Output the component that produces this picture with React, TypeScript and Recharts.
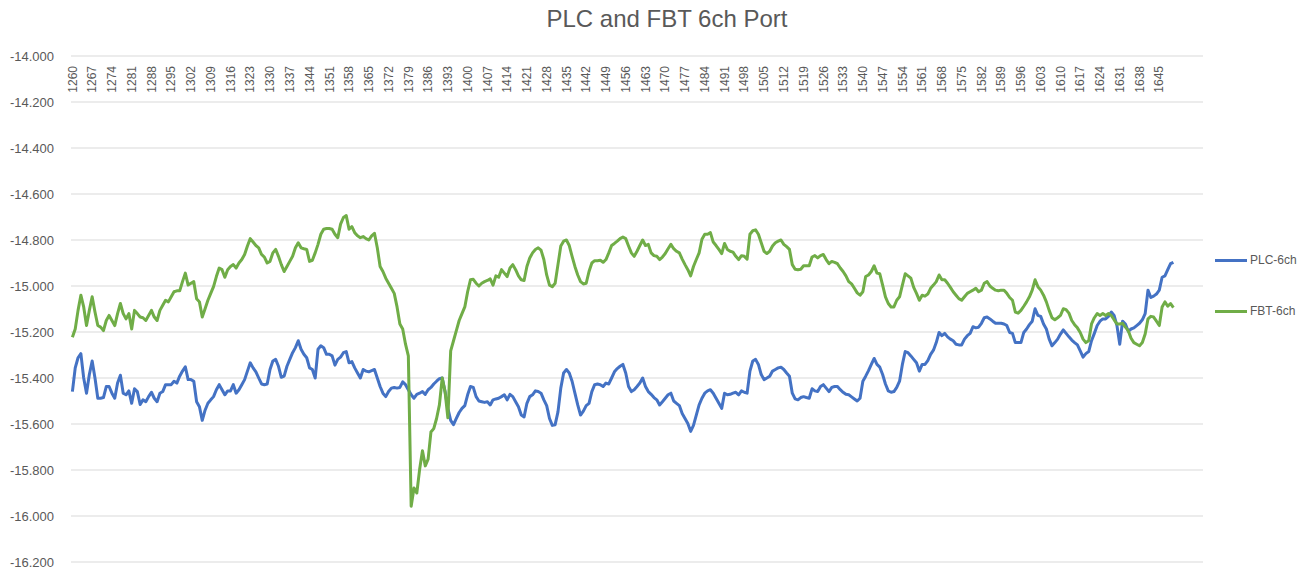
import React from "react";
import { LineChart, Line, XAxis, YAxis, CartesianGrid } from "recharts";

const chartTitle = "PLC and FBT 6ch Port";
const seriesNames = ["PLC-6ch", "FBT-6ch"];
const seriesColors = ["#4472C4", "#70AD47"];

const plc6ch = [
  -15.459, -15.356, -15.312, -15.294, -15.400, -15.466, -15.385, -15.326, -15.400, -15.488,
  -15.488, -15.485, -15.437, -15.437, -15.466, -15.488, -15.422, -15.388, -15.466, -15.473,
  -15.456, -15.510, -15.447, -15.459, -15.515, -15.495, -15.503, -15.481, -15.462, -15.488,
  -15.503, -15.466, -15.459, -15.429, -15.429, -15.429, -15.414, -15.422, -15.392, -15.370,
  -15.351, -15.407, -15.407, -15.414, -15.503, -15.525, -15.584, -15.540, -15.510, -15.495,
  -15.481, -15.451, -15.429, -15.451, -15.473, -15.456, -15.456, -15.429, -15.466, -15.451,
  -15.429, -15.407, -15.370, -15.334, -15.356, -15.373, -15.400, -15.426, -15.429, -15.426,
  -15.363, -15.326, -15.319, -15.349, -15.397, -15.392, -15.349, -15.319, -15.290, -15.268,
  -15.238, -15.275, -15.297, -15.312, -15.356, -15.363, -15.400, -15.275, -15.260, -15.268,
  -15.297, -15.297, -15.304, -15.344, -15.319, -15.309, -15.290, -15.285, -15.334, -15.329,
  -15.356, -15.378, -15.400, -15.363, -15.370, -15.373, -15.368, -15.363, -15.400, -15.437,
  -15.466, -15.481, -15.459, -15.444, -15.441, -15.444, -15.441, -15.417, -15.429, -15.451,
  -15.473, -15.488, -15.471, -15.466, -15.459, -15.471, -15.451, -15.441, -15.426, -15.414,
  -15.403, -15.400, -15.459, -15.532, -15.584, -15.603, -15.576, -15.550, -15.532, -15.520,
  -15.473, -15.437, -15.441, -15.481, -15.500, -15.503, -15.506, -15.503, -15.517, -15.495,
  -15.491, -15.488, -15.481, -15.473, -15.495, -15.471, -15.481, -15.503, -15.525, -15.561,
  -15.569, -15.510, -15.481, -15.473, -15.456, -15.459, -15.466, -15.495, -15.520, -15.576,
  -15.606, -15.603, -15.547, -15.444, -15.378, -15.363, -15.378, -15.414, -15.466, -15.517,
  -15.561, -15.544, -15.520, -15.510, -15.459, -15.429, -15.426, -15.429, -15.437, -15.422,
  -15.426, -15.400, -15.373, -15.359, -15.349, -15.341, -15.378, -15.437, -15.459, -15.451,
  -15.437, -15.422, -15.400, -15.437, -15.459, -15.471, -15.485, -15.495, -15.517, -15.503,
  -15.488, -15.473, -15.466, -15.500, -15.510, -15.520, -15.554, -15.576, -15.598, -15.632,
  -15.606, -15.561, -15.517, -15.488, -15.466, -15.456, -15.451, -15.466, -15.488, -15.510,
  -15.532, -15.466, -15.473, -15.471, -15.466, -15.462, -15.473, -15.456, -15.462, -15.466,
  -15.370, -15.326, -15.319, -15.341, -15.385, -15.407, -15.400, -15.392, -15.370, -15.363,
  -15.356, -15.353, -15.363, -15.378, -15.392, -15.466, -15.491, -15.495, -15.485, -15.481,
  -15.485, -15.488, -15.447, -15.456, -15.459, -15.437, -15.429, -15.444, -15.459, -15.441,
  -15.437, -15.437, -15.451, -15.462, -15.471, -15.473, -15.482, -15.491, -15.500, -15.488,
  -15.414, -15.392, -15.368, -15.341, -15.315, -15.341, -15.353, -15.385, -15.426, -15.456,
  -15.462, -15.459, -15.441, -15.414, -15.341, -15.285, -15.290, -15.304, -15.319, -15.334,
  -15.370, -15.341, -15.341, -15.324, -15.297, -15.279, -15.246, -15.202, -15.216, -15.206,
  -15.221, -15.231, -15.238, -15.253, -15.256, -15.256, -15.231, -15.216, -15.206, -15.177,
  -15.182, -15.179, -15.162, -15.138, -15.135, -15.143, -15.153, -15.162, -15.162, -15.162,
  -15.165, -15.172, -15.202, -15.206, -15.246, -15.246, -15.246, -15.202, -15.187, -15.168,
  -15.153, -15.099, -15.128, -15.132, -15.165, -15.187, -15.231, -15.260, -15.246, -15.231,
  -15.209, -15.191, -15.206, -15.221, -15.235, -15.246, -15.256, -15.282, -15.309, -15.294,
  -15.285, -15.238, -15.206, -15.172, -15.153, -15.143, -15.143, -15.132, -15.113, -15.128,
  -15.172, -15.253, -15.153, -15.165, -15.197, -15.187, -15.182, -15.172, -15.162, -15.147,
  -15.120, -15.018, -15.050, -15.044, -15.035, -15.018, -14.962, -14.956, -14.929, -14.903, -14.897,
];

const fbt6ch = [
  -15.223, -15.187, -15.106, -15.040, -15.091, -15.172, -15.106, -15.047, -15.113, -15.172,
  -15.179, -15.194, -15.150, -15.128, -15.150, -15.172, -15.120, -15.076, -15.120, -15.143,
  -15.120, -15.187, -15.106, -15.120, -15.135, -15.138, -15.150, -15.128, -15.106, -15.135,
  -15.150, -15.106, -15.084, -15.062, -15.069, -15.047, -15.025, -15.021, -15.021, -14.981,
  -14.944, -14.996, -14.988, -14.981, -15.055, -15.069, -15.135, -15.099, -15.062, -15.032,
  -15.003, -14.959, -14.922, -14.929, -14.962, -14.929, -14.915, -14.907, -14.922, -14.900,
  -14.885, -14.863, -14.826, -14.794, -14.809, -14.824, -14.834, -14.863, -14.874, -14.900,
  -14.893, -14.856, -14.841, -14.871, -14.907, -14.937, -14.915, -14.893, -14.871, -14.834,
  -14.812, -14.834, -14.838, -14.841, -14.893, -14.888, -14.856, -14.819, -14.775, -14.753,
  -14.750, -14.750, -14.753, -14.775, -14.790, -14.731, -14.702, -14.694, -14.753, -14.742,
  -14.768, -14.782, -14.790, -14.785, -14.794, -14.800, -14.782, -14.771, -14.834, -14.915,
  -14.937, -14.966, -14.988, -15.010, -15.032, -15.091, -15.165, -15.187, -15.253, -15.304,
  -15.958, -15.878, -15.900, -15.797, -15.716, -15.782, -15.753, -15.635, -15.620, -15.576,
  -15.517, -15.400, -15.459, -15.573, -15.282, -15.238, -15.194, -15.150, -15.120, -15.091,
  -15.025, -14.973, -14.971, -14.988, -15.000, -14.988, -14.981, -14.976, -14.969, -14.996,
  -14.956, -14.962, -14.929, -14.944, -14.959, -14.922, -14.907, -14.929, -14.956, -14.973,
  -14.976, -14.915, -14.878, -14.856, -14.841, -14.834, -14.844, -14.885, -14.952, -14.996,
  -15.003, -14.988, -14.907, -14.826, -14.805, -14.800, -14.824, -14.871, -14.915, -14.952,
  -14.981, -14.991, -14.988, -14.937, -14.900, -14.890, -14.890, -14.888, -14.897, -14.885,
  -14.856, -14.824, -14.815, -14.805, -14.794, -14.787, -14.794, -14.826, -14.856, -14.871,
  -14.849, -14.824, -14.800, -14.824, -14.819, -14.856, -14.868, -14.871, -14.885, -14.874,
  -14.859, -14.838, -14.819, -14.838, -14.849, -14.856, -14.883, -14.907, -14.929, -14.956,
  -14.915, -14.885, -14.856, -14.797, -14.775, -14.775, -14.768, -14.809, -14.824, -14.841,
  -14.859, -14.815, -14.841, -14.849, -14.853, -14.871, -14.885, -14.868, -14.871, -14.883,
  -14.775, -14.760, -14.756, -14.775, -14.812, -14.849, -14.859, -14.849, -14.826, -14.812,
  -14.805, -14.800, -14.819, -14.829, -14.841, -14.907, -14.927, -14.929, -14.927, -14.912,
  -14.912, -14.912, -14.874, -14.868, -14.878, -14.868, -14.863, -14.885, -14.903, -14.893,
  -14.897, -14.903, -14.922, -14.937, -14.956, -14.981, -14.991, -15.010, -15.030, -15.040,
  -15.025, -14.959, -14.952, -14.937, -14.912, -14.944, -14.947, -14.996, -15.047, -15.076,
  -15.091, -15.091, -15.062, -15.047, -14.996, -14.947, -14.956, -14.966, -15.006, -15.032,
  -15.062, -15.040, -15.044, -15.035, -15.010, -14.996, -14.981, -14.952, -14.973, -14.973,
  -14.988, -15.006, -15.025, -15.040, -15.055, -15.062, -15.047, -15.032, -15.025, -15.018,
  -15.010, -15.025, -15.018, -14.988, -14.981, -15.000, -15.010, -15.018, -15.021, -15.018,
  -15.018, -15.032, -15.050, -15.062, -15.113, -15.118, -15.106, -15.088, -15.069, -15.047,
  -15.018, -14.973, -15.003, -15.018, -15.040, -15.069, -15.106, -15.138, -15.147, -15.138,
  -15.128, -15.099, -15.103, -15.118, -15.150, -15.168, -15.182, -15.202, -15.231, -15.246,
  -15.238, -15.165, -15.138, -15.120, -15.128, -15.120, -15.128, -15.120, -15.128, -15.147,
  -15.165, -15.165, -15.162, -15.179, -15.194, -15.227, -15.246, -15.253, -15.260, -15.246,
  -15.209, -15.143, -15.132, -15.135, -15.153, -15.172, -15.091, -15.069, -15.088, -15.076, -15.094,
];

const firstWavelength = 1260;
const wavelengths = plc6ch.map((_, k) => firstWavelength + k);

const yTicks = [-14.0, -14.2, -14.4, -14.6, -14.8, -15.0, -15.2, -15.4, -15.6, -15.8, -16.0, -16.2];

const data = wavelengths.map((wl, k) => ({
  wl,
  plc: plc6ch[k],
  fbt: fbt6ch[k],
}));

const seriesKeys = ["plc", "fbt"];

const FONT = "'Liberation Sans', Arial, sans-serif";
const TEXT = "#595959";

const XTick = (props: any) => {
  const { x, y, payload } = props;
  return (
    <text
      transform={`translate(${x},${y + 10}) rotate(-90)`}
      textAnchor="end"
      dy="0.35em"
      fill={TEXT}
      fontSize={12}
      fontFamily={FONT}
    >
      {payload.value}
    </text>
  );
};

export default function App() {
  return (
    <div
      style={{
        position: "absolute",
        left: 0,
        top: 0,
        width: 1310,
        height: 569,
        background: "#ffffff",
        fontFamily: FONT,
      }}
    >
      <div
        style={{
          position: "absolute",
          left: 0,
          top: 5,
          width: 1334,
          textAlign: "center",
          fontSize: 24,
          color: TEXT,
          whiteSpace: "nowrap",
        }}
      >
        {chartTitle}
      </div>
      <LineChart
        width={1310}
        height={569}
        data={data}
        margin={{ top: 26, right: 107, bottom: 7, left: 8 }}
      >
        <CartesianGrid vertical={false} stroke="#d9d9d9" strokeWidth={1} />
        <XAxis
          dataKey="wl"
          orientation="top"
          height={30}
          interval={6}
          axisLine={false}
          tickLine={false}
          tickSize={0}
          tickMargin={0}
          padding={{ left: 1.4, right: 29.6 }}
          tick={<XTick />}
        />
        <YAxis
          type="number"
          domain={[-16.2, -14]}
          ticks={yTicks}
          interval={0}
          width={63}
          axisLine={false}
          tickLine={false}
          tickSize={0}
          tickMargin={17}
          tickFormatter={(v: number) => v.toFixed(3)}
          tick={{ fill: TEXT, fontSize: 13, fontFamily: FONT }}
          allowDataOverflow
        />
        {seriesKeys.map((k, idx) => (
          <Line
            key={k}
            type="linear"
            dataKey={k}
            name={seriesNames[idx]}
            stroke={seriesColors[idx]}
            strokeWidth={3}
            strokeLinejoin="round"
            dot={false}
            activeDot={false}
            isAnimationActive={false}
          />
        ))}
      </LineChart>
      <div style={{ position: "absolute", left: 1215, top: 251 }}>
        {seriesNames.map((name, idx) => (
          <div
            key={name}
            style={{
              display: "flex",
              alignItems: "center",
              height: 18,
              marginBottom: idx === 0 ? 33 : 0,
            }}
          >
            <span
              style={{
                display: "inline-block",
                width: 32,
                height: 3,
                background: seriesColors[idx],
                marginRight: 3,
              }}
            />
            <span style={{ fontSize: 12, color: TEXT }}>{name}</span>
          </div>
        ))}
      </div>
    </div>
  );
}
